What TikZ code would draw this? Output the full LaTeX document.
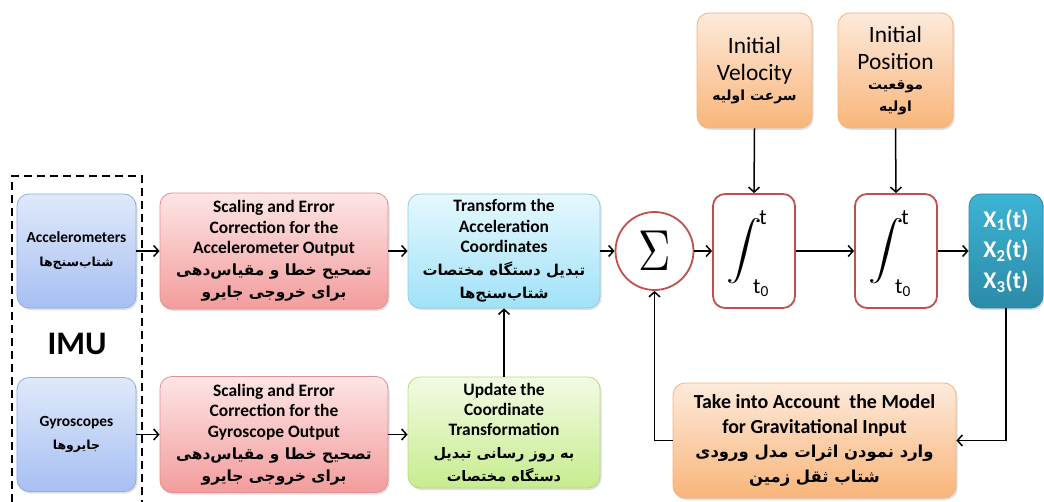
\documentclass[tikz,border=0pt]{standalone}
\usepackage{graphicx}
\usepackage{fontspec}
\setmainfont{Carlito}
\newfontfamily\farsi[Script=Arabic]{DejaVu Sans}
\TeXXeTstate=1
\lineskiplimit=-40pt
\usetikzlibrary{arrows.meta,shadows}
\newcommand{\fa}[2][16]{{\fontsize{#1}{#1}\selectfont\farsi\bfseries\beginR #2\endR}}
\definecolor{imutop}{HTML}{DFE9FB}
\definecolor{imubot}{HTML}{A7BFF2}
\definecolor{imuline}{HTML}{8EADE6}
\definecolor{redtop}{HTML}{FDE5E5}
\definecolor{redbot}{HTML}{F39C9C}
\definecolor{redline}{HTML}{E39090}
\definecolor{cyantop}{HTML}{E6F8FE}
\definecolor{cyanbot}{HTML}{A0E2F8}
\definecolor{cyanline}{HTML}{8CCDE6}
\definecolor{greentop}{HTML}{F3FBE4}
\definecolor{greenbot}{HTML}{C6EC8E}
\definecolor{greenline}{HTML}{B5DC80}
\definecolor{orangetop}{HTML}{FDEADB}
\definecolor{orangebot}{HTML}{F9B57A}
\definecolor{orangeline}{HTML}{F3B27E}
\definecolor{tealtop}{HTML}{3DB4D4}
\definecolor{tealbot}{HTML}{2B8AA7}
\definecolor{intline}{HTML}{C0504D}
\begin{document}
\begin{tikzpicture}[x=1bp,y=-1bp,
  >={Straight Barb[length=5bp,width=11bp]},
  flow/.style={->,line width=1.5bp},
  box/.style={rounded corners=12bp,align=flush center,inner sep=2bp,line width=.8bp,
    drop shadow={opacity=.25,shadow xshift=1.5bp,shadow yshift=-2bp}},
  imubox/.style={box,draw=imuline,top color=imutop,bottom color=imubot,text width=115bp,
    minimum width=119bp,minimum height=114bp,font=\fontsize{15.5}{24}\selectfont\bfseries},
  corrbox/.style={box,draw=redline,top color=redtop,bottom color=redbot,text width=224bp,
    minimum width=228bp,minimum height=116bp,font=\fontsize{17.5}{20.5}\selectfont\bfseries},
  intbox/.style={draw=intline,fill=white,line width=1.8bp,rounded corners=12bp,
    minimum width=82bp,minimum height=114bp},
  initbox/.style={box,draw=orangeline,top color=orangetop,bottom color=orangebot,text width=111bp,
    minimum width=115bp,minimum height=115bp,font=\fontsize{23.5}{28}\selectfont}]
\useasboundingbox (0,0) rectangle (1044,502);
\draw[line width=2.5bp,dash pattern=on 8bp off 5bp] (12,502) -- (12,176) -- (142,176) -- (142,502);
\node[imubox] (acc) at (76.5,251) {Accelerometers\\ \fa[12.5]{شتاب‌سنج‌ها}};
\node[imubox] (gyro) at (76.5,434.5) {Gyroscopes\\ \fa[12.5]{جایروها}};
\node[font=\fontsize{33}{33}\selectfont\bfseries] (imu) at (77,344) {IMU};
\node[corrbox] (sacc) at (274,251) {Scaling and Error\\ Correction for the\\ Accelerometer Output\\[1.5bp]
  \fa[15.5]{تصحیح خطا و مقیاس‌دهی}\\[1.5bp] \fa[15.5]{برای خروجی جایرو}};
\node[corrbox] (sgyr) at (274,434.5) {Scaling and Error\\ Correction for the\\ Gyroscope Output\\[1.5bp]
  \fa[15.5]{تصحیح خطا و مقیاس‌دهی}\\[1.5bp] \fa[15.5]{برای خروجی جایرو}};
\node[box,draw=cyanline,top color=cyantop,bottom color=cyanbot,text width=188bp,minimum width=192bp,
  minimum height=114bp,font=\fontsize{17.5}{20.5}\selectfont\bfseries] (trans) at (504,251)
  {Transform the\\ Acceleration\\ Coordinates\\[2bp] \fa[15]{تبدیل دستگاه مختصات}\\[3bp] \fa[15]{شتاب‌سنج‌ها}};
\node[box,draw=greenline,top color=greentop,bottom color=greenbot,text width=188bp,minimum width=192bp,
  minimum height=111bp,font=\fontsize{17.5}{20.5}\selectfont\bfseries] (upd) at (504,432.5)
  {Update the\\ Coordinate\\ Transformation\\[2bp] \fa[14.5]{به روز رسانی تبدیل}\\[3bp] \fa[14.5]{دستگاه مختصات}};
\node[circle,draw=intline,fill=white,line width=1.8bp,minimum size=78bp,inner sep=0pt] (sum)
  at (654.5,251) {\scalebox{4.5}[5.8]{$\Sigma$}};
\foreach \n/\x in {int1/754,int2/896}
{
  \node[intbox] (\n) at (\x,251) {};
  \node[inner sep=0pt] (\n s) at (\x-10,251.5) {\scalebox{3.6}[2.95]{$\displaystyle\int$}};
  \node[font=\fontsize{22}{22}\selectfont,inner sep=0pt] (\n t) at (\x+9,218) {t};
  \node[font=\fontsize{22}{22}\selectfont,inner sep=0pt] (\n b) at (\x+7,288) {t\textsubscript{0}};
}
\node[box,draw=tealbot,top color=tealtop,bottom color=tealbot,text=white,text width=70bp,minimum width=74bp,
  minimum height=114bp,font=\fontsize{24}{31}\selectfont\bfseries] (out) at (1006,251)
  {X\textsubscript{1}(t)\\ X\textsubscript{2}(t)\\ X\textsubscript{3}(t)};
\node[initbox] (vel) at (754.5,70.5) {Initial\\ Velocity\\[-8bp] \fa[14]{سرعت اولیه}};
\node[initbox] (pos) at (895.5,70.5) {Initial\\ Position\\[-8bp] \fa[14]{موقعیت}\\[-6bp] \fa[14]{اولیه}};
\node[box,draw=orangeline,top color=orangetop,bottom color=orangebot,text width=279bp,minimum width=283bp,
  minimum height=115bp,font=\fontsize{20}{25}\selectfont\bfseries] (grav) at (814.5,440.5)
  {Take into Account \ the Model\\ for Gravitational Input\\ \fa[16.5]{وارد نمودن اثرات مدل ورودی}\\ \fa[16.5]{شتاب ثقل زمین}};
\draw[flow] (acc.east) -- (acc.east -| sacc.west);
\draw[flow] (gyro.east) -- (gyro.east -| sgyr.west);
\draw[flow] (sacc.east) -- (sacc.east -| trans.west);
\draw[flow] (sgyr.east) -- (sgyr.east -| upd.west);
\draw[flow] (upd.north) -- (trans.south);
\draw[flow] (trans.east) -- (sum.west);
\draw[flow] (sum.east) -- (int1.west);
\draw[flow] (int1.east) -- (int2.west);
\draw[flow] (int2.east) -- (out.west);
\draw[flow] (vel.south) -- (int1.north);
\draw[flow] (pos.south) -- (int2.north);
\draw[flow] (out.south) |- (grav.east);
\draw[flow] (grav.west) -| (sum.south);
\end{tikzpicture}
\end{document}
